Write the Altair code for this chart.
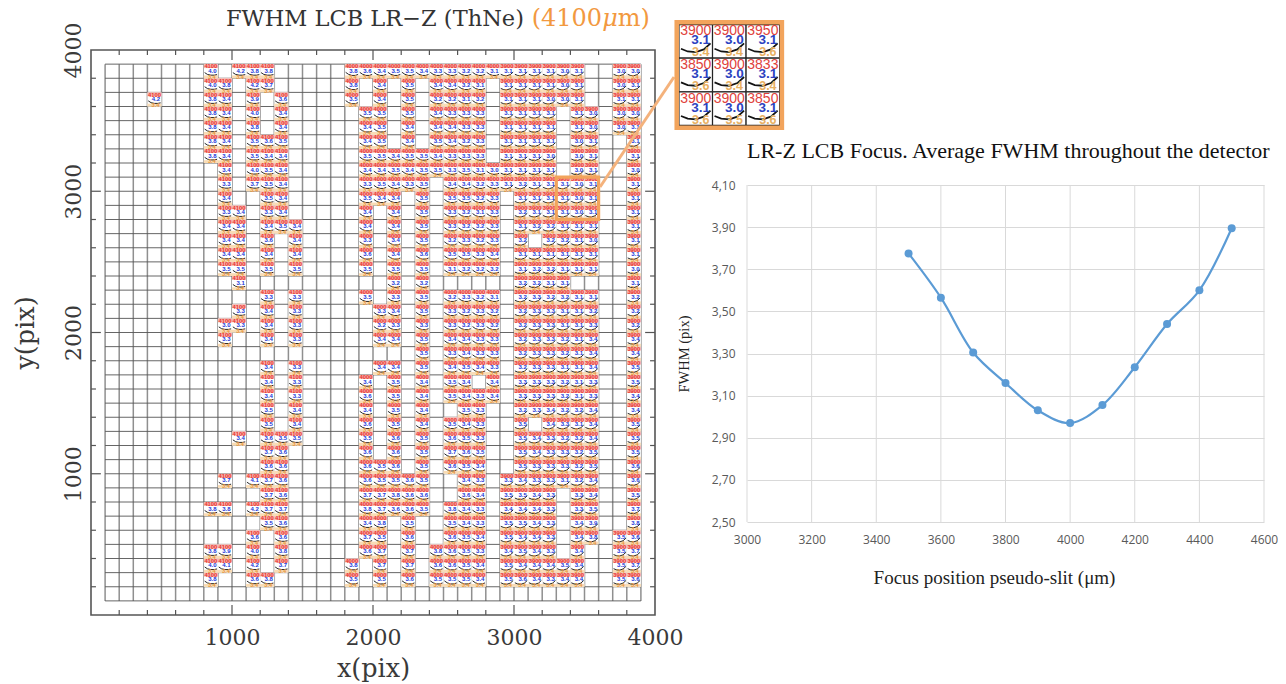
import altair as alt
import pandas as pd

# ---------- measured FWHM per detector tile, row 0 is the top row: {column: FWHM} ----------
R00 = {7:4.0,9:4.2,10:3.8,11:3.8,17:3.8,18:3.6,19:3.4,20:3.5,21:3.5,22:3.4,23:3.3,24:3.3,25:3.2,26:3.2,27:3.1,28:3.1,29:3.1,30:3.1,31:3.1,32:3.0,33:3.1,36:3.0,37:3.0}
R01 = {7:4.0,8:3.8,10:4.2,11:3.7,17:3.8,19:3.4,21:3.5,23:3.4,24:3.4,25:3.2,26:3.1,28:3.1,29:3.1,30:3.1,31:3.1,32:3.0,33:3.1,36:3.0,37:3.1}
R02 = {3:4.2,7:3.8,8:3.4,10:3.9,12:3.6,17:3.5,19:3.4,21:3.5,23:3.2,24:3.2,25:3.1,26:3.2,28:3.1,29:3.1,30:3.1,31:3.0,32:3.0,33:3.1,36:3.1,37:3.1}
R03 = {7:3.8,8:3.4,10:4.0,12:3.4,18:3.5,19:3.5,21:3.5,23:3.4,24:3.3,25:3.3,26:3.3,28:3.1,29:3.1,30:3.1,31:3.1,33:3.1,34:3.0,36:3.0,37:3.0}
R04 = {7:3.8,8:3.4,10:3.8,12:3.4,18:3.4,19:3.5,21:3.4,23:3.4,24:3.4,25:3.3,26:3.3,28:3.1,29:3.1,30:3.1,31:3.1,33:3.1,34:3.0,36:3.0,37:3.1}
R05 = {7:3.8,8:3.4,10:3.5,11:3.6,12:3.5,18:3.4,19:3.5,21:3.4,23:3.5,24:3.4,25:3.2,26:3.3,28:3.1,29:3.1,30:3.1,31:3.1,33:3.0,34:3.1,37:3.1}
R06 = {7:3.8,8:3.4,10:3.5,11:3.4,12:3.4,18:3.5,19:3.5,20:3.4,21:3.5,22:3.5,23:3.4,24:3.3,25:3.3,26:3.3,28:3.1,29:3.1,30:3.1,31:3.0,33:3.0,34:3.1,37:3.1}
R07 = {8:3.4,10:4.0,11:3.5,12:3.4,18:3.4,19:3.4,20:3.5,21:3.4,22:3.5,23:3.5,24:3.3,25:3.5,26:3.1,27:3.0,28:3.1,29:3.1,30:3.1,31:3.1,33:3.0,34:3.1,37:3.0}
R08 = {8:3.3,10:3.7,11:3.5,12:3.4,18:3.3,19:3.5,20:3.4,21:3.3,22:3.5,24:3.4,25:3.4,26:3.2,27:3.3,28:3.1,29:3.2,30:3.1,31:3.1,32:3.1,33:3.0,34:3.1,37:3.1}
R09 = {8:3.4,11:3.5,12:3.4,18:3.5,19:3.4,20:3.4,22:3.5,24:3.5,25:3.5,26:3.2,27:3.3,29:3.1,30:3.1,31:3.1,32:3.1,33:3.0,34:3.1,37:3.1}
R10 = {8:3.3,9:3.4,11:3.3,12:3.4,18:3.4,20:3.4,22:3.5,24:3.3,25:3.2,26:3.1,27:3.3,29:3.2,30:3.1,31:3.1,32:3.1,33:3.0,34:3.1,37:3.1}
R11 = {8:3.4,9:3.4,11:3.4,12:3.5,13:3.4,18:3.4,20:3.4,22:3.5,24:3.3,25:3.2,26:3.2,27:3.3,29:3.1,30:3.2,31:3.2,32:3.1,33:3.1,34:3.1,37:3.1}
R12 = {8:3.4,9:3.4,11:3.6,13:3.4,18:3.3,20:3.4,22:3.5,24:3.2,25:3.3,26:3.2,27:3.3,29:3.2,31:3.2,32:3.2,33:3.1,34:3.0,37:3.1}
R13 = {8:3.4,9:3.4,11:3.4,13:3.4,18:3.6,20:3.4,22:3.6,24:3.5,25:3.5,26:3.3,27:3.4,29:3.1,30:3.1,31:3.1,32:3.1,33:3.1,34:3.1,37:3.1}
R14 = {8:3.5,9:3.5,11:3.5,13:3.5,18:3.5,20:3.5,22:3.5,24:3.1,25:3.2,26:3.2,27:3.2,29:3.1,30:3.2,31:3.2,32:3.1,33:3.1,34:3.1,37:3.0}
R15 = {9:3.1,20:3.2,22:3.2,29:3.2,30:3.2,31:3.1,32:3.1,37:3.1}
R16 = {11:3.3,13:3.3,18:3.5,20:3.3,22:3.5,24:3.2,25:3.3,26:3.2,27:3.1,29:3.2,30:3.3,31:3.2,32:3.2,33:3.1,34:3.1,37:3.2}
R17 = {9:3.3,11:3.4,13:3.3,19:3.3,20:3.4,22:3.5,24:3.3,25:3.2,26:3.3,27:3.2,29:3.2,30:3.3,31:3.3,32:3.1,33:3.1,34:3.2,37:3.2}
R18 = {8:3.0,9:3.3,11:3.4,13:3.3,19:3.2,20:3.3,22:3.3,24:3.3,25:3.2,26:3.3,27:3.2,29:3.2,30:3.3,31:3.3,32:3.1,33:3.1,34:3.3,37:3.2}
R19 = {8:3.3,11:3.4,13:3.3,19:3.4,20:3.4,22:3.5,24:3.4,25:3.4,26:3.3,27:3.3,29:3.2,30:3.3,31:3.3,32:3.2,33:3.1,34:3.4,37:3.4}
R20 = {22:3.5,24:3.3,25:3.4,26:3.3,27:3.3,29:3.2,30:3.3,31:3.3,32:3.2,33:3.1,34:3.4,37:3.4}
R21 = {11:3.4,13:3.3,19:3.4,20:3.4,22:3.5,24:3.4,25:3.5,26:3.4,27:3.3,29:3.2,30:3.3,31:3.3,32:3.1,33:3.1,34:3.4,37:3.5}
R22 = {11:3.4,13:3.3,18:3.4,20:3.5,22:3.4,24:3.5,25:3.4,27:3.4,29:3.3,30:3.3,31:3.3,32:3.2,33:3.1,34:3.3,37:3.5}
R23 = {11:3.4,13:3.3,18:3.6,20:3.5,22:3.4,24:3.5,25:3.4,26:3.3,27:3.4,29:3.3,30:3.3,31:3.3,32:3.2,33:3.1,34:3.3,37:3.4}
R24 = {11:3.5,13:3.4,18:3.4,20:3.5,22:3.4,25:3.5,26:3.3,29:3.2,30:3.3,31:3.4,32:3.2,33:3.2,34:3.4,37:3.4}
R25 = {11:3.5,13:3.4,18:3.6,20:3.5,22:3.4,24:3.5,25:3.4,26:3.3,29:3.5,31:3.4,32:3.3,33:3.1,34:3.4,37:3.5}
R26 = {9:3.4,11:3.6,12:3.5,13:3.5,18:3.5,20:3.6,22:3.5,24:3.6,25:3.5,26:3.3,29:3.5,30:3.4,31:3.3,32:3.2,33:3.2,34:3.4,37:3.5}
R27 = {11:3.7,12:3.6,18:3.6,20:3.6,22:3.5,24:3.7,25:3.6,26:3.5,29:3.5,30:3.4,31:3.3,32:3.3,33:3.2,34:3.5,37:3.5}
R28 = {11:3.6,12:3.6,18:3.6,19:3.5,20:3.6,22:3.5,24:3.6,25:3.5,26:3.4,29:3.5,30:3.3,31:3.3,32:3.3,33:3.2,34:3.5,37:3.6}
R29 = {8:3.7,10:4.1,11:3.7,12:3.6,18:3.6,19:3.5,20:3.5,21:3.6,22:3.5,25:3.4,26:3.3,28:3.3,29:3.4,30:3.3,31:3.3,32:3.1,33:3.2,34:3.4,37:3.6}
R30 = {11:3.7,12:3.6,18:3.7,19:3.7,20:3.8,21:3.6,22:3.6,25:3.6,26:3.4,28:3.5,29:3.5,30:3.4,31:3.3,33:3.3,34:3.4,37:3.5}
R31 = {7:3.8,8:3.8,10:4.2,11:3.7,12:3.7,18:3.8,19:3.7,20:3.6,21:3.6,22:3.5,24:3.8,25:3.4,26:3.3,28:3.4,29:3.4,30:3.4,31:3.3,33:3.3,34:3.5,37:3.7}
R32 = {11:3.5,12:3.6,18:3.4,19:3.8,21:3.5,24:3.5,25:3.4,26:3.3,28:3.5,29:3.5,30:3.4,31:3.3,33:3.4,34:3.9,37:3.8}
R33 = {10:3.6,12:3.6,18:3.7,19:3.5,21:3.6,24:3.6,25:3.5,26:3.4,28:3.5,29:3.4,30:3.4,31:3.3,33:3.4,34:3.8,36:3.5,37:3.6}
R34 = {7:3.8,8:3.9,10:4.0,12:3.8,18:3.6,19:3.7,21:3.7,23:3.8,24:3.6,25:3.5,26:3.3,28:3.4,29:3.5,30:3.4,31:3.3,33:3.4,36:3.5,37:3.7}
R35 = {7:4.0,8:4.1,10:4.2,12:3.7,17:3.8,19:3.7,21:3.7,23:3.6,24:3.6,25:3.5,26:3.4,28:3.5,29:3.4,30:3.4,31:3.4,32:3.5,33:3.4,36:3.5,37:3.7}
R36 = {7:3.8,10:3.6,11:3.8,17:3.5,19:3.5,21:3.6,23:3.5,24:3.5,25:3.5,26:3.4,28:3.5,29:3.6,30:3.4,31:3.3,32:3.4,33:3.4,36:3.5,37:3.6}
TILE_ROWS = [R00,R01,R02,R03,R04,R05,R06,R07,R08,R09,R10,R11,R12,R13,R14,R15,R16,R17,R18,R19,
             R20,R21,R22,R23,R24,R25,R26,R27,R28,R29,R30,R31,R32,R33,R34,R35,R36]

FOCUS_LEFT = "4100"
FOCUS_MID = "4000"
FOCUS_RIGHT = "3900"
ORANGE_LABEL = "3.4"

# thumbnail curve shapes in each tile
CURVE_DX = [6, 26, 50, 74, 94]
CURVE_LEFT = [40, 27, 22, 22, 26]
CURVE_MID = [42, 28, 20, 20, 27]
CURVE_RIGHT = [28, 20, 18, 26, 44]

# inset (zoom on three by three tiles)
INSET_FOCUS = ["3900","3900","3950","3850","3900","3833","3900","3900","3850"]
INSET_FWHM = ["3.1","3.0","3.1","3.1","3.0","3.1","3.1","3.0","3.1"]
INSET_ORANGE = ["3.4","3.4","3.6","3.6","3.4","3.4","3.6","3.5","3.6"]

# average curve
FOCUS_POS = [3500,3600,3700,3800,3900,4000,4100,4200,4300,4400,4500]
AVG_FWHM = [3.775,3.565,3.305,3.16,3.03,2.97,3.055,3.235,3.44,3.60,3.895]
X_TICKS = [3000,3200,3400,3600,3800,4000,4200,4400,4600]
Y_TICKS = [2.5,2.7,2.9,3.1,3.3,3.5,3.7,3.9,4.1]

SERIF = "DejaVu Serif"
ORANGE = "#f2a45c"
DARK = "#3a3a3a"

XS = alt.Scale(domain=[0, 4000], nice=False, zero=False)
YS = alt.Scale(domain=[0, 4000], nice=False, zero=False)
XA = alt.Axis(values=[1000, 2000, 3000, 4000], title="x(pix)", grid=False,
              domain=False, ticks=False, labelFont=SERIF, labelFontSize=22, labelColor=DARK, labelPadding=12,
              labelOverlap=False, labelFlush=False, titleFont=SERIF, titleFontSize=25.5, titleFontWeight="normal",
              titleColor=DARK, titlePadding=8, format="d")
YA = alt.Axis(values=[1000, 2000, 3000, 4000], title="y(pix)", grid=False,
              domain=False, ticks=False, labelFont=SERIF, labelFontSize=22, labelColor=DARK, labelPadding=6,
              labelAngle=270, labelAlign="center", labelBaseline="bottom", labelOverlap=False, labelFlush=False,
              titleFont=SERIF, titleFontSize=25.5, titleFontWeight="normal", titleColor=DARK, titlePadding=24, format="d")

def X(f, **k):
    return alt.X(f, type="quantitative", scale=XS, axis=XA, **k)

def Y(f, **k):
    return alt.Y(f, type="quantitative", scale=YS, axis=YA, **k)

# ---------- tiles ----------
tiles, curves = [], []
for r, row in enumerate(TILE_ROWS):
    for c, v in row.items():
        x0 = 100 + 100 * c
        y0 = 3800 - 100 * r
        focus = FOCUS_LEFT if c <= 14 else (FOCUS_MID if c <= 27 else FOCUS_RIGHT)
        tiles.append(dict(x0=x0, x1=x0 + 100, y0=y0, y1=y0 + 100, cx=x0 + 50, cy=y0 + 50,
                          red0=y0 + 72, org1=y0 + 20,
                          focus=focus, fwhm=f"{v:.1f}", orange=ORANGE_LABEL))
        shape = CURVE_LEFT if c <= 14 else (CURVE_MID if c <= 27 else CURVE_RIGHT)
        for dx, dy in zip(CURVE_DX, shape):
            curves.append(dict(id=f"{r}-{c}", x=x0 + dx, y=y0 + dy))
tile_df = pd.DataFrame(tiles)
curve_df = pd.DataFrame(curves)

inset_rows = []
inset_curves = []
IX0, IW, IY1, IH = 4170, 238, 4180, 238
for i in range(9):
    col, row = i % 3, i // 3
    x0 = IX0 + IW * col
    y1 = IY1 - IH * row
    inset_rows.append(dict(x0=x0, x1=x0 + IW, y0=y1 - IH, y1=y1, cx=x0 + IW / 2, cy=y1 - IH / 2,
                           focus=INSET_FOCUS[i], fwhm=INSET_FWHM[i], orange=INSET_ORANGE[i]))
    for dx, dy in zip(CURVE_DX, CURVE_RIGHT):
        inset_curves.append(dict(id=str(i), x=x0 + dx * IW / 100, y=y1 - IH + dy * IH / 100))
inset_df = pd.DataFrame(inset_rows)
inset_curve_df = pd.DataFrame(inset_curves)

grid_v = pd.DataFrame({"x": list(range(100, 4000, 100)), "a": [100] * 39, "b": [3900] * 39})
grid_h = pd.DataFrame({"y": list(range(100, 4000, 100)), "a": [100] * 39, "b": [3900] * 39})
minor = [v for v in range(200, 4000, 200) if v % 1000]
major = [1000, 2000, 3000]

def tick_df(vals, length):
    return pd.DataFrame({"v": vals, "a": [0] * len(vals), "b": [length] * len(vals),
                         "c": [4000] * len(vals), "d": [4000 - length] * len(vals)})

tk = pd.concat([tick_df(minor, 35), tick_df(major, 70)])

lay = []
lay.append(alt.Chart(pd.DataFrame({"a": [0], "b": [4000]})).mark_rect(
    fillOpacity=0, stroke="#555555", strokeWidth=1.6).encode(x=X("a"), x2="b", y=Y("a"), y2="b"))
lay.append(alt.Chart(grid_v).mark_rule(color="#8f8f8f", strokeWidth=1.5).encode(x=X("x"), y=Y("a"), y2="b"))
lay.append(alt.Chart(grid_h).mark_rule(color="#555555", strokeWidth=0.9).encode(y=Y("y"), x=X("a"), x2="b"))
TICK = "#555555"
lay.append(alt.Chart(tk).mark_rule(color=TICK, strokeWidth=1.2).encode(x=X("v"), y=Y("a"), y2="b"))
lay.append(alt.Chart(tk).mark_rule(color=TICK, strokeWidth=1.2).encode(x=X("v"), y=Y("c"), y2="d"))
lay.append(alt.Chart(tk).mark_rule(color=TICK, strokeWidth=1.2).encode(y=Y("v"), x=X("a"), x2="b"))
lay.append(alt.Chart(tk).mark_rule(color=TICK, strokeWidth=1.2).encode(y=Y("v"), x=X("c"), x2="d"))

# tiles
SANS = "Liberation Sans"
lay.append(alt.Chart(tile_df).mark_rect(fill="white").encode(x=X("x0"), x2="x1", y=Y("y0"), y2="y1"))
lay.append(alt.Chart(tile_df).mark_rect(fill="#f8b4ae").encode(x=X("x0"), x2="x1", y=Y("red0"), y2="y1"))
lay.append(alt.Chart(tile_df).mark_rect(fill="#f9dcb5").encode(x=X("x0"), x2="x1", y=Y("y0"), y2="org1"))
lay.append(alt.Chart(curve_df).mark_line(color="#111111", strokeWidth=0.9).encode(x=X("x"), y=Y("y"), detail="id:N"))
lay.append(alt.Chart(tile_df).mark_text(font=SANS, fontSize=5.8, fontWeight="bold", color="#e8352f", dy=-4.8).encode(
    x=X("cx"), y=Y("cy"), text="focus:N"))
lay.append(alt.Chart(tile_df).mark_text(font=SANS, fontSize=6, fontWeight="bold", color="#2238d8", dx=1.5, dy=-0.4).encode(
    x=X("cx"), y=Y("cy"), text="fwhm:N"))
lay.append(alt.Chart(tile_df).mark_text(font=SANS, fontSize=5.6, fontWeight="bold", color="#e8963c", dx=1, dy=5.4).encode(
    x=X("cx"), y=Y("cy"), text="orange:N"))

# zoom box and connector
box = pd.DataFrame({"x0": [3300], "x1": [3600], "y0": [2800], "y1": [3100]})
lay.append(alt.Chart(box).mark_rect(fill="white", fillOpacity=0.01, stroke=ORANGE, strokeWidth=3.2, strokeOpacity=1).encode(
    x=X("x0"), x2="x1", y=Y("y0"), y2="y1"))
conn = pd.DataFrame({"x": [3610, 4135], "y": [3030, 3809]})
lay.append(alt.Chart(conn).mark_line(color="#f4b27c", strokeWidth=3).encode(x=X("x"), y=Y("y")))

# inset
frame = pd.DataFrame({"x0": [IX0 - 16], "x1": [IX0 + 3 * IW + 16], "y0": [IY1 - 3 * IH - 16], "y1": [IY1 + 16]})
lay.append(alt.Chart(inset_df).mark_rect(fill="white", stroke="#222222", strokeWidth=1.2).encode(
    x=X("x0"), x2="x1", y=Y("y0"), y2="y1"))
lay.append(alt.Chart(inset_curve_df).mark_line(color="#111111", strokeWidth=1.8).encode(x=X("x"), y=Y("y"), detail="id:N"))
lay.append(alt.Chart(inset_df).mark_text(font=SANS, fontSize=14, color="#e0403a", dy=-10).encode(
    x=X("cx"), y=Y("cy"), text="focus:N"))
lay.append(alt.Chart(inset_df).mark_text(font=SANS, fontSize=13.5, fontWeight="bold", color="#2a3fc0", dx=5, dy=-1).encode(
    x=X("cx"), y=Y("cy"), text="fwhm:N"))
lay.append(alt.Chart(inset_df).mark_text(font=SANS, fontSize=12.5, fontWeight="bold", color="#e9b062", dx=5, dy=11).encode(
    x=X("cx"), y=Y("cy"), text="orange:N"))
lay.append(alt.Chart(frame).mark_rect(fill="white", fillOpacity=0.01, stroke=ORANGE, strokeWidth=4.5).encode(
    x=X("x0"), x2="x1", y=Y("y0"), y2="y1"))

# title
def title_text(txt, x, color, size=22.5, style="normal"):
    d = pd.DataFrame({"x": [x], "y": [4172], "t": [txt]})
    return alt.Chart(d).mark_text(font=SERIF, fontSize=size, color=color, align="left", baseline="alphabetic",
                                  fontStyle=style).encode(x=X("x"), y=Y("y"), text="t:N")

lay.append(title_text("FWHM LCB LR\u2212Z (ThNe)", 957, "#333333"))
lay.append(title_text("(4100", 3125, "#f2993f", 24))
lay.append(title_text("\u03bc", 3625, "#f2993f", 24, "italic"))
lay.append(title_text("m)", 3735, "#f2993f", 24))

left = alt.layer(*lay).properties(width=564, height=565)

# ---------- right panel ----------
RX = alt.Scale(domain=[3000, 4600], nice=False, zero=False)
RY = alt.Scale(domain=[2.5, 4.1], range=[472, 135], nice=False, zero=False)
GR = "#d9d9d9"
LAB = "#595959"
df = pd.DataFrame({"x": FOCUS_POS, "y": AVG_FWHM})
vg = pd.DataFrame({"x": X_TICKS, "a": [2.5] * len(X_TICKS), "b": [4.1] * len(X_TICKS)})

right_base = alt.Chart(pd.DataFrame({"y": Y_TICKS, "x": [3000] * len(Y_TICKS)})).mark_point(opacity=0).encode(
    x=alt.X("x:Q", scale=RX, axis=alt.Axis(values=X_TICKS, grid=False, domain=False, ticks=False,
            title="Focus position pseudo-slit (\u03bcm)", titleFont="Liberation Serif", titleFontSize=19,
            titleFontWeight="normal", titleColor="#222222", titlePadding=23, titleX=247,
            labelFont="Open Sans", labelFontSize=12, labelColor=LAB, labelPadding=12, format="d", labelFlush=False)),
    y=alt.Y("y:Q", scale=RY, axis=alt.Axis(values=Y_TICKS, grid=True, gridColor=GR, domain=False, ticks=False,
            title="FWHM (pix)", titleFont="Liberation Serif", titleFontSize=14.5, titleFontWeight="normal",
            titleColor="#222222", titlePadding=20,
            labelFont="Open Sans", labelFontSize=12, labelColor=LAB, labelPadding=12, format=".2f",
            labelExpr="replace(format(datum.value, '.2f'), '.', ',')", labelFlush=False)),
)
right_grid = alt.Chart(vg).mark_rule(color=GR, strokeWidth=1).encode(
    x=alt.X("x:Q", scale=RX), y=alt.Y("a:Q", scale=RY), y2="b")
right_line = alt.Chart(df).mark_line(color="#5b9bd5", strokeWidth=2.2, interpolate="catmull-rom").encode(
    x=alt.X("x:Q", scale=RX), y=alt.Y("y:Q", scale=RY))
right_pts = alt.Chart(df).mark_circle(color="#5b9bd5", size=64, opacity=1).encode(
    x=alt.X("x:Q", scale=RX), y=alt.Y("y:Q", scale=RY))
right_title = alt.Chart(pd.DataFrame({"x": [3000], "y": [4.226],
                                      "t": ["LR-Z LCB Focus. Average FWHM throughout the detector"]})).mark_text(
    font="Liberation Serif", fontSize=22, color="#111111", align="left", baseline="alphabetic").encode(
    x=alt.X("x:Q", scale=RX), y=alt.Y("y:Q", scale=RY), text="t:N")

right = alt.layer(right_base, right_grid, right_line, right_pts, right_title).properties(width=517, height=472)

chart = alt.hconcat(left, right, spacing=92, bounds="flush").configure_view(stroke=None).properties(
    padding={"left": 5, "top": -2, "right": 0, "bottom": 0}, background="white")
chart = chart.resolve_scale(x="independent", y="independent")
chart.save("out.html", embed_options={"renderer": "svg", "actions": False})
